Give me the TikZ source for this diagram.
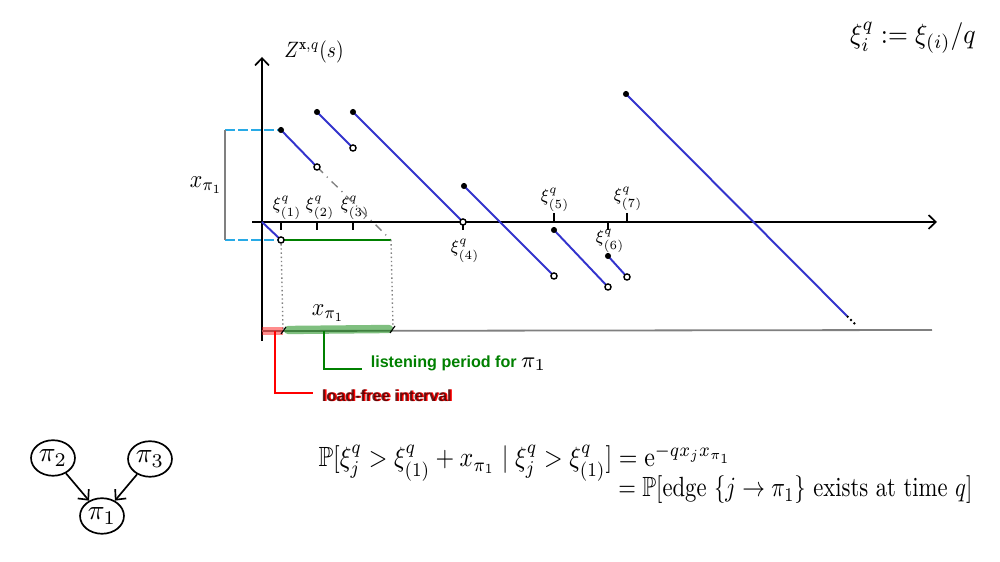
\documentclass[tikz,border=0pt]{standalone}
\usepackage{amsmath,amssymb}
\usepackage{graphicx}
\usepackage{fontspec}
\newfontfamily\lab{Liberation Sans}
\usetikzlibrary{shapes.geometric,arrows.meta}
\definecolor{segblue}{RGB}{51,51,204}
\definecolor{lgreen}{RGB}{0,128,0}
\definecolor{cyanb}{RGB}{40,170,230}
\begin{document}
\begin{tikzpicture}[x=0.36pt,y=-0.36pt,
  axis/.style={black,line width=0.6pt},
  axarrow/.style={-{Straight Barb[length=2.6pt,width=5pt]}},
  seg/.style={segblue,line width=0.7pt},
  fdot/.style={circle,fill=black,inner sep=0pt,minimum size=2.2pt},
  odot/.style={circle,draw=black,fill=white,line width=0.5pt,inner sep=0pt,minimum size=2.2pt},
  ticklab/.style={font=\scriptsize,inner sep=0.5pt},
  gnode/.style={ellipse,draw,line width=0.6pt,minimum width=14.4pt,minimum height=12.8pt,inner sep=0.5pt},
  garrow/.style={-{Straight Barb[length=2.8pt,width=5.2pt]},line width=0.6pt},
  callfont/.style={font=\lab\bfseries\fontsize{5.8}{7}\selectfont},
  cydash/.style={cyanb,dash pattern=on 3.5pt off 1.2pt,line width=0.55pt}]
\useasboundingbox (0,0) rectangle (1000,562);
% axes
\coordinate (Ybot) at (262,341);
\coordinate (Ytop) at (262,57);
\coordinate (Xl) at (252,222);
\coordinate (Xr) at (937,222);
\draw[axis,axarrow] (Ybot) -- (Ytop);
\draw[axis,axarrow] (Xl) -- (Xr);
\node (zlab) at (314,52) {\scalebox{0.7}[0.8]{$Z^{\mathbf{x},q}(s)$}};
% ticks
\foreach \x in {281,317,353,463,608} \draw[axis] (\x,222) -- (\x,230);
\foreach \x in {554,627} \draw[axis] (\x,213) -- (\x,222);
\node[ticklab] (t1) at (287,208) {\scalebox{0.8}[0.9]{$\xi^q_{(1)}$}};
\node[ticklab] (t2) at (320,208) {\scalebox{0.8}[0.9]{$\xi^q_{(2)}$}};
\node[ticklab] (t3) at (355,208) {\scalebox{0.8}[0.9]{$\xi^q_{(3)}$}};
\node[ticklab] (t4) at (465,251) {\scalebox{0.8}[0.9]{$\xi^q_{(4)}$}};
\node[ticklab] (t5) at (555,200) {\scalebox{0.8}[0.9]{$\xi^q_{(5)}$}};
\node[ticklab] (t6) at (610,241) {\scalebox{0.8}[0.9]{$\xi^q_{(6)}$}};
\node[ticklab] (t7) at (628,199) {\scalebox{0.8}[0.9]{$\xi^q_{(7)}$}};
% points
\coordinate (O) at (262,222);
\coordinate (a1) at (281,240);
\coordinate (s2) at (281,130); \coordinate (e2) at (317,167);
\coordinate (s3) at (317,112); \coordinate (e3) at (353,148);
\coordinate (s4) at (353,112); \coordinate (e4) at (463,222);
\coordinate (s5) at (464,186); \coordinate (e5) at (554,276);
\coordinate (s6) at (554,230); \coordinate (e6) at (608,287);
\coordinate (s7) at (608,256); \coordinate (e7) at (627,277);
\coordinate (s8) at (626,94);  \coordinate (e8) at (847,316);
\coordinate (d8) at (856,325);
\coordinate (g2) at (391,240);
\coordinate (cyt) at (225,130);
\coordinate (cyb) at (225,240);
% helper lines
\draw[cydash] (cyt) -- (s2);
\draw[cydash] (cyb) -- (a1);
\draw[gray,line width=0.45pt] (cyt) -- (cyb);
\node (xpl) at (206,185) {\scalebox{0.79}[0.9]{$x_{\pi_1}$}};
\draw[gray,dash dot,line width=0.5pt] (e2) -- (g2);
\draw[lgreen,line width=0.6pt] (a1) -- (g2);
\draw[gray,densely dotted,line width=0.5pt] (a1) -- (283,330);
\draw[gray,densely dotted,line width=0.5pt] (g2) -- (393,328);
% segments
\draw[seg] (O) -- (a1);
\draw[seg] (s2) -- (e2);
\draw[seg] (s3) -- (e3);
\draw[seg] (s4) -- (e4);
\draw[seg] (s5) -- (e5);
\draw[seg] (s6) -- (e6);
\draw[seg] (s7) -- (e7);
\draw[seg] (s8) -- (e8);
\draw[black,densely dotted,line width=0.7pt] (e8) -- (d8);
\foreach \p in {s2,s3,s4,s5,s6,s7,s8} \node[fdot] at (\p) {};
\foreach \p in {a1,e2,e3,e4,e5,e6,e7} \node[odot] at (\p) {};
% bottom time axis
\coordinate (Bl) at (262,331);
\coordinate (Br) at (932,330);
\draw[gray,line width=0.65pt] (Bl) -- (Br);
\draw[red,opacity=0.45,line width=2.8pt] (Bl) -- (283,331);
\draw[lgreen,opacity=0.5,line width=3pt,line cap=round] (288,330) -- (389,329);
\draw[black,line width=0.4pt] (281,334) -- (286,327);
\draw[black,line width=0.4pt] (390,333) -- (395,326);
\node (xpb) at (328,313) {\scalebox{0.79}[0.9]{$x_{\pi_1}$}};
% callouts
\coordinate (gc1) at (324,331); \coordinate (gc2) at (324,369); \coordinate (gc3) at (362,369);
\draw[lgreen,line width=0.5pt] (gc1) -- (gc2) -- (gc3);
\node[callfont,text=lgreen,anchor=west] (lp) at (361,363) {listening period for {\color{black}\fontsize{8}{9}\selectfont$\pi_1$}};
\coordinate (rc1) at (275,331); \coordinate (rc2) at (275,393); \coordinate (rc3) at (313,393);
\draw[red,line width=0.5pt] (rc1) -- (rc2) -- (rc3);
\node[callfont,text=red,anchor=west] (lf) at (313.5,396) {load-free interval};
\node[callfont,text=red!30!black,opacity=0.85,anchor=west] (lfs) at (312,396) {load-free interval};
% top right
\node (def) at (913,38) {\scalebox{0.92}[1]{$\xi_i^q := \xi_{(i)}/q$}};
% graph
\node[gnode] (p2) at (53,458) {$\pi_2$};
\node[gnode] (p3) at (150,459) {$\pi_3$};
\node[gnode] (p1) at (102,516) {$\pi_1$};
\draw[garrow] (p2) -- (p1);
\draw[garrow] (p3) -- (p1);
% formulas
\node[anchor=base west,inner sep=0pt] (f1) at (318,467) {\scalebox{0.864}[1]{$\mathbb{P}[\xi_j^q > \xi_{(1)}^q + x_{\pi_1} \mid \xi_j^q > \xi_{(1)}^q] = \mathrm{e}^{-q x_j x_{\pi_1}}$}};
\node[anchor=base east,inner sep=0pt] (f2) at (973,497) {\scalebox{0.816}[1]{$= \mathbb{P}[\text{edge } \{j \to \pi_1\} \text{ exists at time } q]$}};
\end{tikzpicture}
\end{document}
